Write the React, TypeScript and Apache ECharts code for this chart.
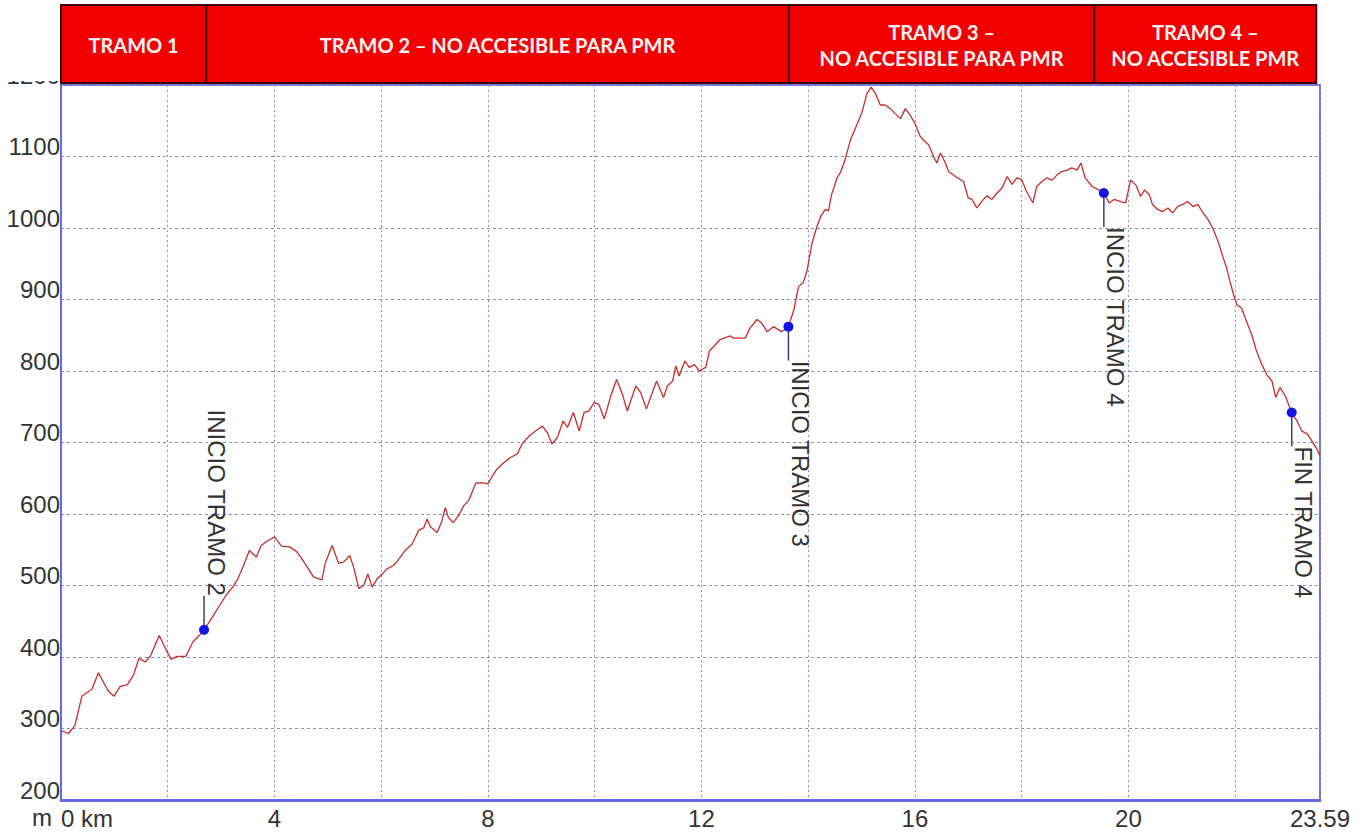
import React, { useEffect, useRef } from 'react';
import * as echarts from 'echarts';

// Elevation profile (distance in km, altitude in m)
const DIST_KM = [
  0.0, 0.14, 0.26, 0.39, 0.48, 0.58, 0.7, 0.8, 0.89, 0.99, 1.11, 1.24, 1.36, 1.46, 1.58, 1.68, 1.77, 1.84, 1.93, 2.06,
  2.18, 2.34, 2.47, 2.59, 2.68, 2.84, 2.97, 3.09, 3.22, 3.31, 3.41, 3.53, 3.66, 3.75, 3.88, 4.0, 4.13, 4.29, 4.42, 4.57,
  4.73, 4.89, 4.95, 5.08, 5.2, 5.3, 5.41, 5.48, 5.58, 5.67, 5.75, 5.83, 5.92, 6.02, 6.1, 6.23, 6.33, 6.45, 6.58, 6.7,
  6.8, 6.86, 6.92, 7.05, 7.14, 7.2, 7.26, 7.35, 7.45, 7.55, 7.64, 7.77, 7.89, 8.0, 8.08, 8.17, 8.3, 8.42, 8.55, 8.64,
  8.77, 8.89, 9.02, 9.11, 9.2, 9.3, 9.41, 9.49, 9.6, 9.71, 9.8, 9.89, 9.99, 10.08, 10.18, 10.3, 10.41, 10.52, 10.61, 10.77,
  10.86, 10.97, 11.08, 11.16, 11.29, 11.36, 11.46, 11.52, 11.58, 11.69, 11.77, 11.87, 11.96, 12.08, 12.15, 12.35, 12.54, 12.6, 12.82, 12.91,
  13.04, 13.13, 13.23, 13.35, 13.5, 13.63, 13.73, 13.82, 13.91, 13.98, 14.07, 14.16, 14.24, 14.32, 14.38, 14.44, 14.54, 14.6, 14.69, 14.79,
  14.91, 15.01, 15.1, 15.18, 15.26, 15.35, 15.44, 15.54, 15.63, 15.73, 15.82, 15.91, 16.0, 16.1, 16.19, 16.26, 16.35, 16.41, 16.48, 16.57,
  16.63, 16.76, 16.91, 17.0, 17.07, 17.16, 17.26, 17.35, 17.44, 17.54, 17.63, 17.73, 17.82, 17.91, 18.0, 18.09, 18.21, 18.28, 18.38, 18.47,
  18.57, 18.66, 18.75, 18.85, 18.94, 19.04, 19.11, 19.19, 19.32, 19.45, 19.54, 19.64, 19.73, 19.86, 19.95, 20.04, 20.14, 20.23, 20.3, 20.39,
  20.45, 20.55, 20.64, 20.74, 20.83, 20.92, 21.02, 21.11, 21.21, 21.3, 21.4, 21.49, 21.58, 21.68, 21.77, 21.84, 21.9, 21.97, 22.03, 22.12,
  22.21, 22.31, 22.4, 22.5, 22.59, 22.69, 22.76, 22.84, 22.94, 23.06, 23.16, 23.25, 23.35, 23.44, 23.53, 23.59,
];
const ELEV_M = [
  297, 293, 304, 345, 350, 355, 378, 364, 352, 345, 359, 361, 375, 398, 393, 402, 418, 430, 416, 397,
  401, 401, 421, 430, 438, 456, 472, 486, 498, 509, 526, 549, 540, 556, 563, 568, 555, 554, 547, 531,
  512, 508, 531, 556, 531, 533, 542, 526, 496, 500, 516, 498, 509, 516, 523, 528, 537, 549, 558, 577,
  581, 593, 582, 574, 591, 609, 595, 588, 598, 612, 619, 643, 644, 642, 653, 663, 672, 679, 684, 698,
  709, 716, 723, 714, 698, 707, 730, 721, 742, 716, 742, 744, 756, 753, 733, 765, 788, 767, 744, 779,
  770, 747, 770, 786, 763, 779, 786, 807, 793, 814, 805, 809, 800, 805, 828, 844, 849, 846, 846, 860,
  872, 867, 855, 862, 855, 862, 885, 918, 924, 941, 978, 1001, 1017, 1026, 1024, 1047, 1070, 1077, 1095, 1123,
  1144, 1162, 1188, 1197, 1188, 1172, 1172, 1167, 1160, 1153, 1167, 1158, 1146, 1128, 1121, 1116, 1100, 1091, 1105, 1091,
  1079, 1072, 1065, 1042, 1040, 1028, 1038, 1045, 1040, 1049, 1056, 1072, 1061, 1070, 1068, 1051, 1035, 1058, 1065, 1070,
  1067, 1074, 1079, 1081, 1084, 1081, 1091, 1070, 1058, 1053, 1049, 1035, 1040, 1037, 1035, 1067, 1060, 1044, 1053, 1047,
  1033, 1026, 1023, 1028, 1021, 1030, 1033, 1037, 1030, 1033, 1021, 1012, 1000, 981, 960, 944, 926, 907, 893, 888,
  870, 851, 828, 809, 795, 786, 763, 777, 765, 742, 730, 716, 712, 702, 691, 681,
];

const X_MAX = 23.59;
const Y_MIN = 200;
const Y_MAX = 1200;

// Section markers
const MARKER_KM = [2.68, 13.63, 19.54, 23.06];
const MARKER_ALT = [438, 862, 1049, 742];
const MARKER_LABELS = ['INICIO TRAMO 2', 'INICIO TRAMO 3', 'INCIO TRAMO 4', 'FIN TRAMO 4'];
const LABEL_ABOVE = ['INICIO TRAMO 2'];

// Header bands (section boundaries in km)
const HEADER_KM = [0, 2.72, 13.64, 19.36, 23.52];
const HEADER_LABELS = [
  'TRAMO 1',
  'TRAMO 2 – NO ACCESIBLE PARA PMR',
  'TRAMO 3 –\nNO ACCESIBLE PARA PMR',
  'TRAMO 4 –\nNO ACCESIBLE PMR',
];

const FONT = '"Liberation Sans", Arial, sans-serif';

export default function App() {
  const ref = useRef<HTMLDivElement>(null);

  useEffect(() => {
    const chart = echarts.init(ref.current as HTMLDivElement, null, { renderer: 'svg' });

    chart.setOption({
      animation: false,
      backgroundColor: '#ffffff',
      grid: {
        left: 61,
        right: 51,
        top: 85,
        bottom: 32,
        show: true,
        borderColor: '#7474e0',
        borderWidth: 2,
        backgroundColor: 'transparent',
      },
      xAxis: {
        type: 'value',
        min: 0,
        max: X_MAX,
        interval: 2,
        axisLine: { show: true, onZero: false, lineStyle: { color: '#6a6ae0', width: 3 } },
        axisTick: { show: false },
        splitLine: { show: true, lineStyle: { color: '#8a8ad4', width: 1, type: [2, 3] } },
        axisLabel: {
          showMinLabel: true,
          showMaxLabel: true,
          alignMinLabel: 'left',
          color: '#333333',
          fontSize: 24,
          fontFamily: FONT,
          margin: 6,
          formatter: (v: number) => {
            if (v === 0) return '0 km';
            if (Math.abs(v - X_MAX) < 1e-9) return String(X_MAX);
            if (Math.round(v) % 4 === 0 && Math.abs(v - Math.round(v)) < 1e-9) return String(Math.round(v));
            return '';
          },
        },
      },
      yAxis: {
        type: 'value',
        min: Y_MIN,
        max: Y_MAX,
        interval: 100,
        axisLine: { show: true, lineStyle: { color: '#6a6ae0', width: 2 } },
        axisTick: { show: false },
        splitLine: { show: true, lineStyle: { color: '#8a8ad4', width: 1, type: [3, 3] } },
        axisLabel: {
          color: '#333333',
          fontSize: 24,
          fontFamily: FONT,
          margin: 1,
          verticalAlign: 'bottom',
          lineHeight: 20,
          formatter: (v: number) => String(v),
        },
      },
      series: [
        {
          type: 'line',
          data: DIST_KM.map((d, i) => [d, ELEV_M[i]]),
          symbol: 'none',
          lineStyle: { color: '#c82e2e', width: 1.3 },
          z: 3,
        },
        {
          type: 'custom',
          data: MARKER_KM.map((d, i) => [d, MARKER_ALT[i], i]),
          clip: false,
          z: 5,
          renderItem: (params: any, api: any) => {
            const i = api.value(2);
            const pt = api.coord([api.value(0), api.value(1)]);
            const cx = pt[0];
            const cy = pt[1];
            const above = LABEL_ABOVE.indexOf(MARKER_LABELS[i]) >= 0;
            const gap = 34;
            const ey = above ? cy - gap : cy + gap;
            return {
              type: 'group',
              children: [
                {
                  type: 'line',
                  shape: { x1: cx, y1: cy, x2: cx, y2: ey },
                  style: { stroke: '#3b3b8a', lineWidth: 1.5 },
                },
                {
                  type: 'text',
                  x: cx,
                  y: ey,
                  rotation: -Math.PI / 2,
                  style: {
                    text: MARKER_LABELS[i],
                    align: above ? 'right' : 'left',
                    verticalAlign: 'bottom',
                    fill: '#333333',
                    fontSize: 24,
                    fontFamily: FONT,
                  },
                },
                {
                  type: 'circle',
                  shape: { cx, cy, r: 5 },
                  style: { fill: '#1414e6' },
                },
              ],
            };
          },
        },
      ],
    });

    const px = HEADER_KM.map((k) => chart.convertToPixel({ xAxisIndex: 0 }, k) as number);
    const graphics: any[] = [
      {
        type: 'rect',
        shape: { x: 0, y: 0, width: 60, height: 81 },
        style: { fill: '#ffffff' },
        z: 99,
      },
      {
        type: 'text',
        left: 32,
        top: 805,
        style: { text: 'm', fontSize: 24, fontFamily: FONT, fill: '#333333' },
        z: 100,
      },
    ];
    for (let i = 0; i < HEADER_LABELS.length; i++) {
      graphics.push({
        type: 'rect',
        shape: { x: px[i], y: 5, width: px[i + 1] - px[i], height: 78 },
        style: { fill: '#f20000', stroke: '#3a0606', lineWidth: 2 },
        z: 100,
      });
      graphics.push({
        type: 'text',
        x: (px[i] + px[i + 1]) / 2,
        y: 45,
        style: {
          text: HEADER_LABELS[i],
          align: 'center',
          verticalAlign: 'middle',
          fill: '#fff3f3',
          fontSize: 20,
          fontWeight: 'bold',
          fontFamily: 'Lato, "Open Sans", sans-serif',
          lineHeight: 26,
        },
        z: 101,
      });
    }
    chart.setOption({ graphic: graphics });

    return () => chart.dispose();
  }, []);

  return <div ref={ref} style={{ position: 'fixed', left: 0, top: 0, width: 1371, height: 832 }} />;
}
